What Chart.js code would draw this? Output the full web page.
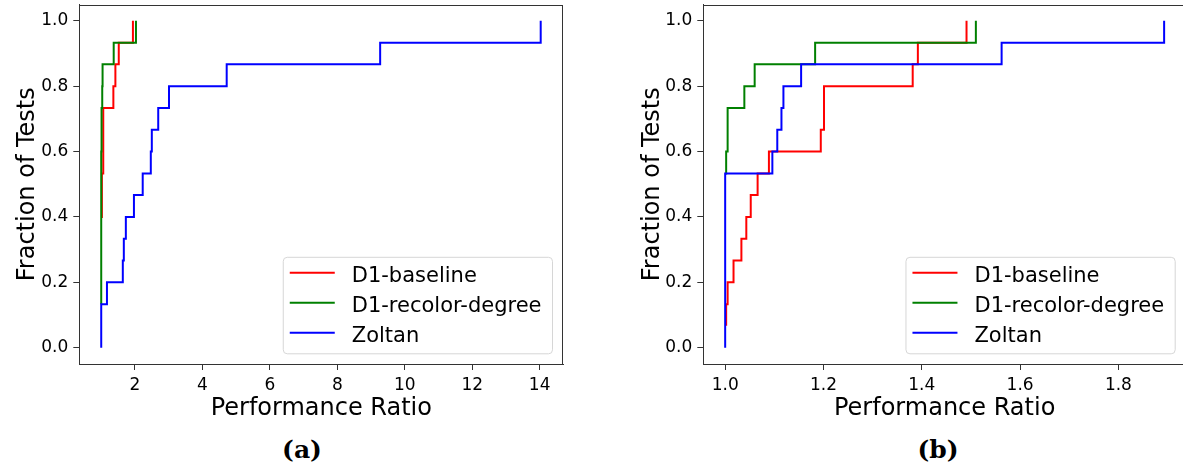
<!DOCTYPE html>
<html>
<head>
<meta charset="utf-8">
<script src="https://cdn.jsdelivr.net/npm/chart.js@4.4.0/dist/chart.umd.min.js"></script>
<style>
  html, body { margin: 0; padding: 0; overflow: hidden; background: #fff; }
  body { width: 1183px; height: 468px; position: relative; font-family: "DejaVu Sans", sans-serif; }
  .panel { position: absolute; top: 0; height: 423px; }
  .cap { position: absolute; top: 449px; transform: translate(-50%, -50%);
         font: bold 25px "DejaVu Serif", serif; line-height: 1; color: #000; }
</style>
</head>
<body>
<div class="panel" style="left:0;width:580px"><canvas id="chartA"></canvas></div>
<div class="panel" style="left:600px;width:600px"><canvas id="chartB"></canvas></div>
<div class="cap" style="left:302px">(a)</div>
<div class="cap" style="left:938px">(b)</div>
<script>
// series
const seriesNames = ['D1-baseline', 'D1-recolor-degree', 'Zoltan'];
const seriesColors = ['#ff0000', '#008000', '#0000ff'];

// panel (a): performance ratio / fraction of tests
const aBaselineX = [1.0, 1.02, 1.06, 1.36, 1.42, 1.52, 1.94];
const aBaselineY = [0.4, 0.533, 0.733, 0.8, 0.867, 0.933, 1.0];
const aRecolorX = [1.0, 1.0, 1.01, 1.03, 1.04, 1.37, 2.03];
const aRecolorY = [0.133, 0.6, 0.733, 0.8, 0.867, 0.933, 1.0];
const aZoltanX = [1.0, 1.0, 1.17, 1.64, 1.67, 1.73, 1.97, 2.23, 2.47, 2.5, 2.69, 3.01, 4.72, 9.27, 14.03];
const aZoltanY = [0, 0.133, 0.2, 0.267, 0.333, 0.4, 0.467, 0.533, 0.6, 0.667, 0.733, 0.8, 0.867, 0.933, 1.0];

// panel (b)
const bBaselineX = [1.002, 1.002, 1.005, 1.017, 1.033, 1.043, 1.052, 1.066, 1.089, 1.1945, 1.201, 1.3815, 1.392, 1.491];
const bBaselineY = [0.067, 0.133, 0.2, 0.267, 0.333, 0.4, 0.467, 0.533, 0.6, 0.667, 0.8, 0.867, 0.933, 1.0];
const bRecolorX = [1.0, 1.002, 1.005, 1.039, 1.06, 1.183, 1.51];
const bRecolorY = [0.533, 0.6, 0.733, 0.8, 0.867, 0.933, 1.0];
const bZoltanX = [1.0, 1.0, 1.096, 1.106, 1.1145, 1.1185, 1.1545, 1.5624, 1.893];
const bZoltanY = [0, 0.533, 0.6, 0.667, 0.733, 0.8, 0.867, 0.933, 1.0];

// ticks
const aXTicks = [2, 4, 6, 8, 10, 12, 14];
const aXTickLabels = ['2', '4', '6', '8', '10', '12', '14'];
const bXTicks = [1.0, 1.2, 1.4, 1.6, 1.8];
const bXTickLabels = ['1.0', '1.2', '1.4', '1.6', '1.8'];
const yTicks = [0, 0.2, 0.4, 0.6, 0.8, 1.0];
const yTickLabels = ['0.0', '0.2', '0.4', '0.6', '0.8', '1.0'];

const toPoints = (xs, ys) => xs.map((x, i) => ({x: x, y: ys[i]}));

// top + right spines like matplotlib, plus the boxed legend in the lower right
const framePlugin = {
  id: 'frame',
  afterDraw(chart) {
    const {ctx, chartArea: ca} = chart;
    ctx.save();
    ctx.strokeStyle = '#333';
    ctx.lineWidth = 1;
    ctx.strokeRect(Math.round(ca.left) + 0.5, Math.round(ca.top) + 0.5,
      Math.round(ca.right - ca.left) - 1, Math.round(ca.bottom - ca.top) - 1);

    // legend
    ctx.font = '21px "DejaVu Sans"';
    let textW = 0;
    seriesNames.forEach(n => { textW = Math.max(textW, ctx.measureText(n).width); });
    const w = 69 + textW + 10.5;
    const h = 96.5;
    const bx = ca.right - 11.3 - w;
    const by = ca.bottom - 10.7 - h;
    ctx.beginPath();
    ctx.roundRect(bx + 0.5, by + 0.5, w, h, 4);
    ctx.fillStyle = 'rgba(255,255,255,0.8)';
    ctx.fill();
    ctx.strokeStyle = '#d6d6d6';
    ctx.stroke();
    seriesNames.forEach((n, i) => {
      const ry = by + 16 + i * 30;
      ctx.beginPath();
      ctx.strokeStyle = seriesColors[i];
      ctx.lineWidth = 2;
      ctx.moveTo(bx + 7, ry);
      ctx.lineTo(bx + 52, ry);
      ctx.stroke();
      ctx.fillStyle = '#000';
      ctx.textBaseline = 'alphabetic';
      ctx.fillText(n, bx + 69, ry + 8.7);
    });
    ctx.restore();
  }
};

// fixed axis box sizes, no extra room for end labels
const fixBox = (w, h) => s => {
  if (w !== null) s.width = w;
  if (h !== null) s.height = h;
  s.paddingTop = 0; s.paddingBottom = 0; s.paddingLeft = 0; s.paddingRight = 0;
};

function makeChart(id, series, xMin, xMax, xTicks, xTickLabels, yAxisW, rightPad, yTitlePad) {
  new Chart(document.getElementById(id), {
    type: 'line',
    data: {
      datasets: series.map((pts, i) => ({
        label: seriesNames[i],
        data: pts,
        borderColor: seriesColors[i],
        borderWidth: 2,
        pointRadius: 0,
        stepped: true,
        fill: false,
        order: 3 - i
      }))
    },
    options: {
      responsive: true,
      maintainAspectRatio: false,
      animation: false,
      layout: { padding: { top: 4.5, right: rightPad, left: 0, bottom: 0 } },
      plugins: { legend: { display: false }, tooltip: { enabled: false } },
      scales: {
        x: {
          type: 'linear',
          min: xMin,
          max: xMax,
          afterBuildTicks: s => { s.ticks = xTicks.map(v => ({value: v})); },
          afterFit: fixBox(null, 59),
          ticks: {
            autoSkip: false, maxRotation: 0, padding: 5, color: '#000',
            font: { family: 'DejaVu Sans', size: 17 },
            callback: (v, i) => xTickLabels[i]
          },
          grid: { drawOnChartArea: false, drawTicks: true, tickLength: 6, tickColor: '#333' },
          border: { display: true, color: '#333' },
          title: { display: true, text: 'Performance Ratio', color: '#000',
                   font: { family: 'DejaVu Sans', size: 24 }, padding: { top: 0, bottom: 0 } }
        },
        y: {
          type: 'linear',
          min: -0.05,
          max: 1.05,
          afterBuildTicks: s => { s.ticks = yTicks.map(v => ({value: v})); },
          afterFit: fixBox(yAxisW, null),
          ticks: {
            autoSkip: false, padding: 5, color: '#000',
            font: { family: 'DejaVu Sans', size: 17 },
            callback: (v, i) => yTickLabels[i]
          },
          grid: { drawOnChartArea: false, drawTicks: true, tickLength: 6, tickColor: '#333' },
          border: { display: true, color: '#333' },
          title: { display: true, text: 'Fraction of Tests', color: '#000',
                   font: { family: 'DejaVu Sans', size: 24 }, padding: { top: yTitlePad, bottom: 0 } }
        }
      }
    },
    plugins: [framePlugin]
  });
}

makeChart('chartA',
  [toPoints(aBaselineX, aBaselineY), toPoints(aRecolorX, aRecolorY), toPoints(aZoltanX, aZoltanY)],
  0.35, 14.7, aXTicks, aXTickLabels, 79.3, 16.7, 13.5);

makeChart('chartB',
  [toPoints(bBaselineX, bBaselineY), toPoints(bRecolorX, bRecolorY), toPoints(bZoltanX, bZoltanY)],
  0.9555, 1.9375, bXTicks, bXTickLabels, 103.3, 14, 38.6);
</script>
</body>
</html>
